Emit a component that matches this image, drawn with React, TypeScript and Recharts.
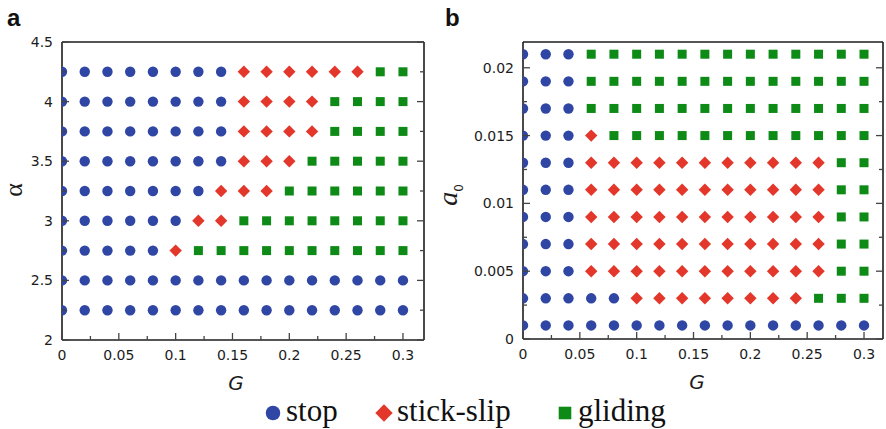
import React from "react";
import { ScatterChart, Scatter, XAxis, YAxis } from "recharts";

// G values (columns) shared by both panels
const gValues = [0, 0.02, 0.04, 0.06, 0.08, 0.1, 0.12, 0.14, 0.16, 0.18, 0.2, 0.22, 0.24, 0.26, 0.28, 0.3];

// panel a: alpha rows, s = stop, k = stick-slip, g = gliding
const alphaValues = [4.25, 4.0, 3.75, 3.5, 3.25, 3.0, 2.75, 2.5, 2.25];
const phaseA = [
  "sssssssskkkkkkgg",
  "sssssssskkkkgggg",
  "sssssssskkkkgggg",
  "sssssssskkkggggg",
  "ssssssskkkgggggg",
  "sssssskkgggggggg",
  "ssssskgggggggggg",
  "ssssssssssssssss",
  "ssssssssssssssss",
];

// panel b: a0 rows
const a0Values = [0.021, 0.019, 0.017, 0.015, 0.013, 0.011, 0.009, 0.007, 0.005, 0.003, 0.001];
const phaseB = [
  "sssggggggggggggg",
  "sssggggggggggggg",
  "sssggggggggggggg",
  "ssskgggggggggggg",
  "ssskkkkkkkkkkkgg",
  "ssskkkkkkkkkkkgg",
  "ssskkkkkkkkkkkgg",
  "ssskkkkkkkkkkkgg",
  "ssskkkkkkkkkkkgg",
  "ssssskkkkkkkkggg",
  "ssssssssssssssss",
];

// axis ticks
const gMajor = [0, 0.05, 0.1, 0.15, 0.2, 0.25, 0.3];
const gMinor = [0.025, 0.075, 0.125, 0.175, 0.225, 0.275];
const alphaMajor = [2, 2.5, 3, 3.5, 4, 4.5];
const alphaMinor = [2.25, 2.75, 3.25, 3.75, 4.25];
const a0Major = [0, 0.005, 0.01, 0.015, 0.02];
const a0Minor = [0.0025, 0.0075, 0.0125, 0.0175];

const series = [
  { code: "s", name: "stop", color: "#2f46a4", shape: "circle" },
  { code: "k", name: "stick-slip", color: "#e2372a", shape: "diamond" },
  { code: "g", name: "gliding", color: "#0e8a16", shape: "square" },
];

const INK = "#1c1c1c";
const TICK_FONT = "DejaVu Sans, Verdana, sans-serif";
const serifStyle = { fontFamily: '"Liberation Serif", "DejaVu Serif", serif' };

function buildPoints(rows: string[], yValues: number[], code: string) {
  const out: { g: number; y: number }[] = [];
  rows.forEach((row, r) => {
    row.split("").forEach((c, i) => {
      if (c === code) out.push({ g: gValues[i], y: yValues[r] });
    });
  });
  return out;
}

function Marker({ cx, cy, shape, color, s = 1 }: any) {
  if (cx == null || cy == null) return null;
  if (shape === "circle") return <circle cx={cx} cy={cy} r={5.2 * s} fill={color} />;
  if (shape === "diamond") {
    const h = 6.2 * s;
    return <polygon points={`${cx},${cy - h} ${cx + h},${cy} ${cx},${cy + h} ${cx - h},${cy}`} fill={color} />;
  }
  const a = 4.5 * s;
  return <rect x={cx - a} y={cy - a} width={2 * a} height={2 * a} fill={color} />;
}

function isIn(list: number[], v: number) {
  return list.some((m) => Math.abs(m - v) < 1e-9);
}

function AxisTick(props: any) {
  const { x, y, payload, side, majors, showLabel } = props;
  const v = payload.value;
  const major = isIn(majors, v);
  const len = major ? 7 : 4;
  let line;
  if (side === "bottom") line = <line x1={x} y1={y} x2={x} y2={y - len} />;
  else if (side === "top") line = <line x1={x} y1={y} x2={x} y2={y + len} />;
  else if (side === "left") line = <line x1={x} y1={y} x2={x + len} y2={y} />;
  else line = <line x1={x} y1={y} x2={x - len} y2={y} />;
  return (
    <g>
      <g stroke="#444" strokeWidth={1.3}>{line}</g>
      {showLabel && major && side === "bottom" && (
        <text x={x} y={y + 20} textAnchor="middle" fontSize={14} fontFamily={TICK_FONT} fill={INK}>
          {String(v)}
        </text>
      )}
      {showLabel && major && side === "left" && (
        <text x={x - 9} y={y + 5} textAnchor="end" fontSize={14} fontFamily={TICK_FONT} fill={INK}>
          {String(v)}
        </text>
      )}
    </g>
  );
}

const axisLine = { stroke: INK, strokeWidth: 1.6 };

function Panel({ width, margin, xMax, yDomain, yMajor, yMinor, rows, yValues, topMinor }: any) {
  const xTicks = [...gMajor, ...gMinor].sort((a, b) => a - b);
  const yTicks = [...yMajor, ...yMinor].sort((a, b) => a - b);
  return (
    <ScatterChart width={width} height={429} margin={margin}>
      <XAxis
        xAxisId="bottom"
        type="number"
        dataKey="g"
        domain={[0, xMax]}
        allowDataOverflow
        ticks={xTicks}
        interval={0}
        height={30}
        tickSize={0}
        tickMargin={0}
        tickLine={false}
        axisLine={axisLine}
        tick={(p: any) => <AxisTick {...p} side="bottom" majors={gMajor} showLabel />}
      />
      <XAxis
        xAxisId="top"
        orientation="top"
        type="number"
        domain={[0, xMax]}
        allowDataOverflow
        ticks={topMinor ? xTicks : gMajor}
        interval={0}
        height={1}
        tickSize={0}
        tickMargin={0}
        tickLine={false}
        axisLine={axisLine}
        tick={(p: any) => <AxisTick {...p} side="top" majors={gMajor} />}
      />
      <YAxis
        yAxisId="left"
        type="number"
        dataKey="y"
        domain={yDomain}
        allowDataOverflow
        ticks={yTicks}
        interval={0}
        width={50}
        tickSize={0}
        tickMargin={0}
        tickLine={false}
        axisLine={axisLine}
        tick={(p: any) => <AxisTick {...p} side="left" majors={yMajor} showLabel />}
      />
      <YAxis
        yAxisId="right"
        orientation="right"
        type="number"
        domain={yDomain}
        allowDataOverflow
        ticks={yTicks}
        interval={0}
        width={1}
        tickSize={0}
        tickMargin={0}
        tickLine={false}
        axisLine={axisLine}
        tick={(p: any) => <AxisTick {...p} side="right" majors={yMajor} />}
      />
      {series.map((s) => (
        <Scatter
          key={s.code}
          name={s.name}
          xAxisId="bottom"
          yAxisId="left"
          data={buildPoints(rows, yValues, s.code)}
          isAnimationActive={false}
          shape={(p: any) => <Marker cx={p.cx} cy={p.cy} shape={s.shape} color={s.color} />}
        />
      ))}
    </ScatterChart>
  );
}

export default function App() {
  return (
    <div style={{ position: "absolute", left: 0, top: 0, width: 886, height: 429, background: "#fff" }}>
      <div style={{ position: "absolute", left: 0, top: 0 }}>
        <Panel
          width={440}
          margin={{ top: 41, right: 15, bottom: 59, left: 12 }}
          xMax={0.3185}
          yDomain={[2, 4.5]}
          yMajor={alphaMajor}
          yMinor={alphaMinor}
          rows={phaseA}
          yValues={alphaValues}
          topMinor={false}
        />
      </div>
      <div style={{ position: "absolute", left: 440, top: 0 }}>
        <Panel
          width={446}
          margin={{ top: 41, right: 2, bottom: 60, left: 33 }}
          xMax={0.3167}
          yDomain={[0, 0.0219]}
          yMajor={a0Major}
          yMinor={a0Minor}
          rows={phaseB}
          yValues={a0Values}
          topMinor
        />
      </div>
      <svg width={886} height={429} style={{ position: "absolute", left: 0, top: 0, pointerEvents: "none" }}>
        <text x={7} y={26} fontSize={24} fontWeight="bold" fontFamily="Liberation Sans, Arial, sans-serif" fill="#111">a</text>
        <text x={445} y={26} fontSize={24} fontWeight="bold" fontFamily="Liberation Sans, Arial, sans-serif" fill="#111">b</text>
        <text x={236} y={390} textAnchor="middle" fontSize={20} fontStyle="italic" fontFamily={TICK_FONT} fill={INK}>G</text>
        <text x={697} y={389} textAnchor="middle" fontSize={20} fontStyle="italic" fontFamily={TICK_FONT} fill={INK}>G</text>
        <text transform="translate(22,190) rotate(-90)" textAnchor="middle" fontSize={26} style={serifStyle} fill={INK}>α</text>
        <text transform="translate(457,195) rotate(-90)" textAnchor="middle" fill={INK}>
          <tspan fontSize={28} fontStyle="italic" style={serifStyle}>a</tspan>
          <tspan fontSize={12} dy={6} fontFamily={TICK_FONT}>0</tspan>
        </text>
        {series.map((s, i) => {
          const mx = [273, 384, 565][i];
          return (
            <g key={s.code}>
              <Marker cx={mx} cy={413} shape={s.shape} color={s.color} s={1.4} />
              <text x={mx + 13} y={421} fontSize={31} style={serifStyle} fill="#111">
                {s.name}
              </text>
            </g>
          );
        })}
      </svg>
    </div>
  );
}
